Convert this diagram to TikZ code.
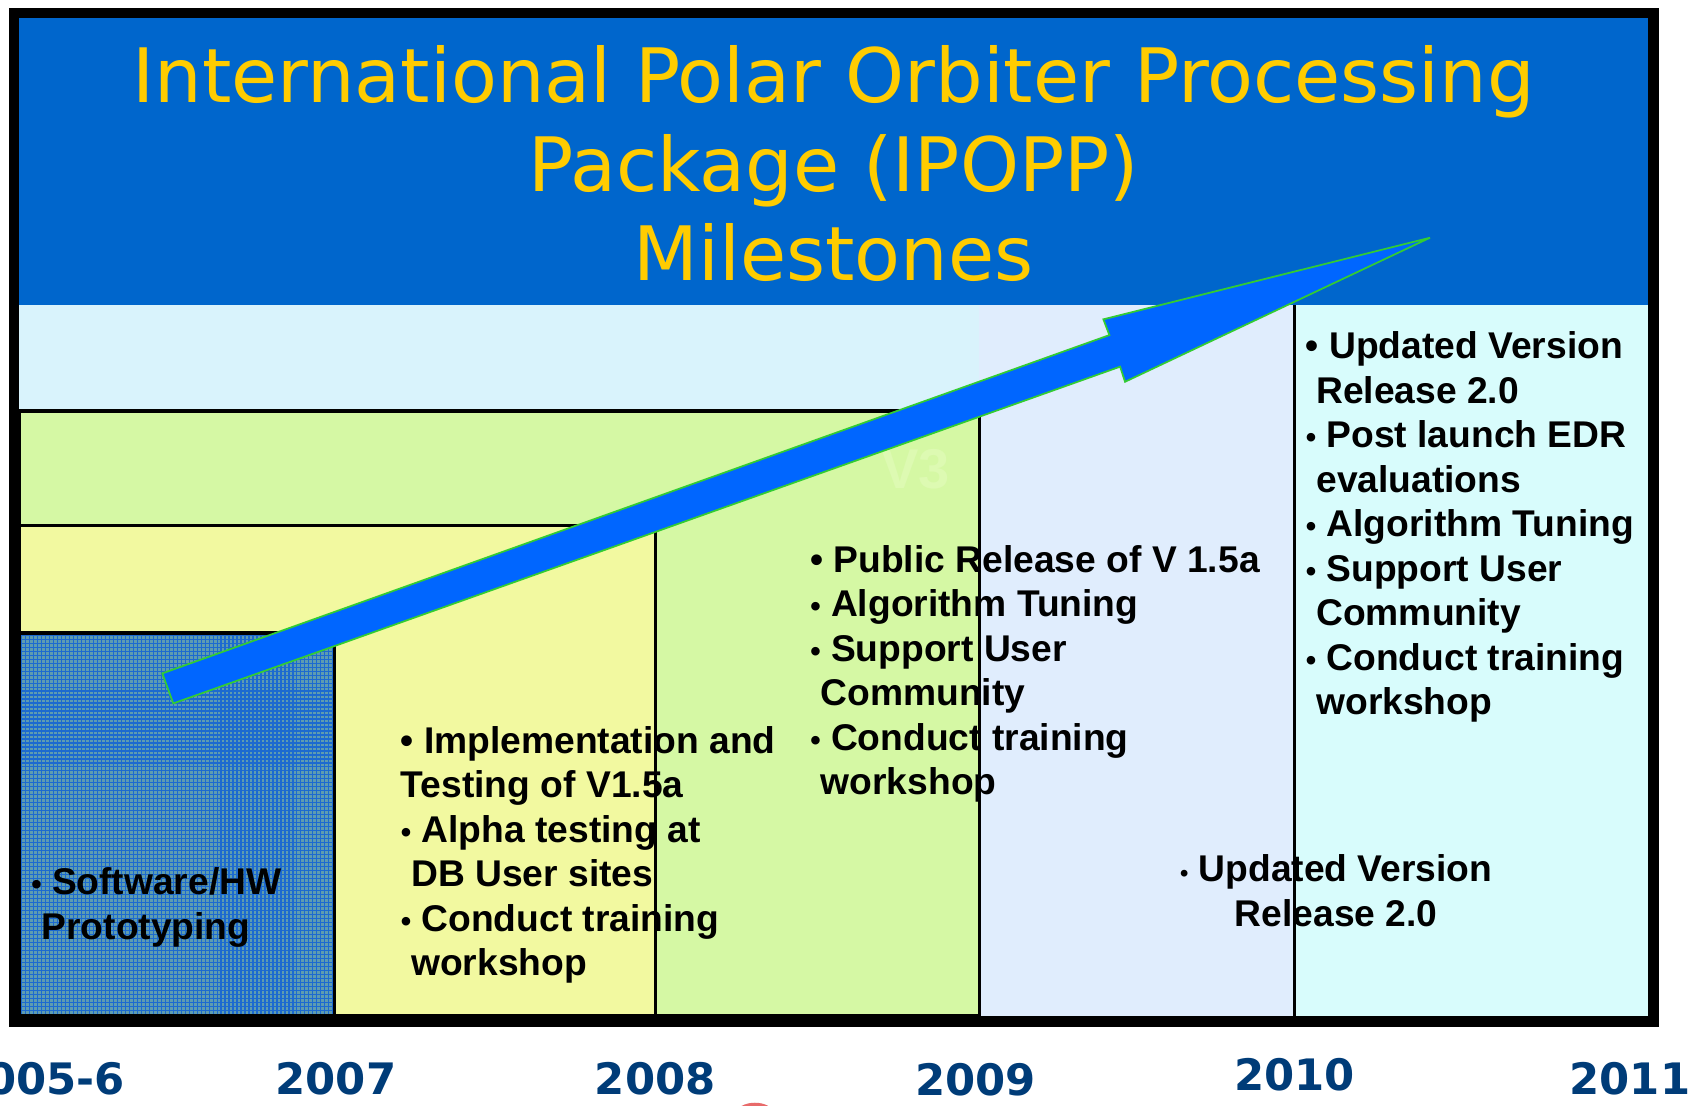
\documentclass[tikz,border=0pt]{standalone}
\usepackage{fontspec}
\setmainfont{Liberation Sans}
\newfontfamily\dejavu{DejaVu Sans}

\definecolor{headblue}{HTML}{0066CC}
\definecolor{titleyellow}{HTML}{FFCC00}
\definecolor{bandcyan}{HTML}{D9F3FC}
\definecolor{lavender}{HTML}{E0EDFD}
\definecolor{rightcyan}{HTML}{D8FCFC}
\definecolor{boxgreen}{HTML}{D5F8A4}
\definecolor{boxyellow}{HTML}{F2F9A0}
\definecolor{protobase}{HTML}{5E9CB0}
\definecolor{protogrid}{HTML}{1C6AD0}
\definecolor{arrowblue}{HTML}{0066FF}
\definecolor{arrowedge}{HTML}{33CC33}
\definecolor{yearblue}{HTML}{003C78}
\definecolor{vthree}{HTML}{DDFAB2}
\definecolor{markred}{HTML}{E86A6A}

% bullets, continuation indent and first-line strut for the text blocks
\newcommand{\sbul}{{\fontsize{13.8pt}{20.65pt}\selectfont •}}
\newcommand{\tbul}{{\fontsize{11pt}{20.65pt}\selectfont •}}
\newcommand{\ind}{\hspace*{0.28em}}
\newcommand{\firstline}{\rule{0pt}{14.5pt}}

\begin{document}
\begin{tikzpicture}[x=0.5pt,y=-0.5pt,
  textblock/.style={anchor=north west, inner sep=0pt, align=left,
    font=\fontsize{17.25pt}{20.65pt}\selectfont\bfseries},
  yearlabel/.style={anchor=base, inner sep=0pt, text=yearblue,
    font=\dejavu\fontsize{20.1pt}{24pt}\selectfont\bfseries},
  boxedge/.style={draw=black, line width=1.5pt},
]
\useasboundingbox (0,0) rectangle (1568,1025);

% outer frame and panels
\fill[black] (8,7) rectangle (1538,952);
\fill[bandcyan] (18,283) rectangle (1528,942);
\fill[lavender] (908,283) rectangle (1200,942);
\fill[rightcyan] (1200,283) rectangle (1528,942);
\fill[headblue] (18,17) rectangle (1528,283);

% stacked phase boxes
\filldraw[fill=boxgreen, boxedge] (18,381) rectangle (908,942);
\filldraw[fill=boxyellow, boxedge] (18,487) rectangle (608,942);
\fill[protobase] (18,587) rectangle (310,942);
\begin{scope}
  \clip (18,587) rectangle (310,942);
  \foreach \gx in {20,23.7,...,312} \draw[protogrid, line width=0.55pt] (\gx,587) -- (\gx,942);
  \foreach \gy in {589,592.7,...,944} \draw[protogrid, line width=0.55pt] (18,\gy) -- (310,\gy);
\end{scope}
\draw[boxedge] (18,587) rectangle (310,942);
\draw[line width=1.3pt] (1200,283) -- (1200,942);
\fill[black] (8,942) rectangle (1538,952);
\fill[black] (8,7) rectangle (18,952);
\fill[black] (1528,7) rectangle (1538,952);

% title
\node[anchor=north, inner sep=0pt, align=center, text=titleyellow,
      font=\dejavu\fontsize{34.8pt}{41.25pt}\selectfont] (title) at (773,35)
  {\rule{0pt}{30pt}International Polar Orbiter Processing\\Package (IPOPP)\\Milestones};

% faint version mark
\node[inner sep=0pt, text=vthree, font=\fontsize{26pt}{30pt}\selectfont\bfseries] (vthree) at (849,435) {V3};

% progress arrow
\coordinate (tailtop) at (150.5,624.4);
\coordinate (notchtop) at (1028.7,310.7);
\coordinate (barbtop) at (1023.1,296.1);
\coordinate (tip) at (1326,220.4);
\coordinate (barbbot) at (1043.2,354);
\coordinate (notchbot) at (1038.6,340);
\coordinate (tailbot) at (160.7,652.2);
\filldraw[fill=arrowblue, draw=arrowedge, line width=0.8pt, line join=miter]
  (tailtop) -- (notchtop) -- (barbtop) -- (tip) -- (barbbot) -- (notchbot) -- (tailbot) -- cycle;

% milestone texts
\node[textblock] (b1) at (28.6,800)
  {\firstline\sbul\ Software/HW\\\ind Prototyping};
\node[textblock] (b2) at (371.3,669)
  {\firstline• Implementation and\\Testing of V1.5a\\\sbul\ Alpha testing at\\\ind DB User sites\\\sbul\ Conduct training\\\ind workshop};
\node[textblock] (b3) at (751,501)
  {\firstline• Public Release of V 1.5a\\\sbul\ Algorithm Tuning\\\sbul\ Support User\\\ind Community\\\sbul\ Conduct training\\\ind workshop};
\node[textblock] (b4) at (1210.5,303)
  {\firstline• Updated Version\\\ind Release 2.0\\\sbul\ Post launch EDR\\\ind evaluations\\\sbul\ Algorithm Tuning\\\sbul\ Support User\\\ind Community\\\sbul\ Conduct training\\\ind workshop};
\node[textblock, anchor=north, align=center] (b5) at (1239,788)
  {\firstline\tbul\ Updated Version\\Release 2.0};

% years
\node[yearlabel] (y2005) at (37.6,1015) {2005-6};
\node[yearlabel] (y2007) at (311.4,1015) {2007};
\node[yearlabel] (y2008) at (607.5,1015) {2008};
\node[yearlabel] (y2009) at (904.5,1016) {2009};
\node[yearlabel] (y2010) at (1200.5,1011) {2010};
\node[yearlabel] (y2011) at (1511.4,1015) {2011};

% clipped mark at the lower edge
\draw[markred, line width=1.5pt] (700,1033) ellipse [x radius=16, y radius=9];
\end{tikzpicture}
\end{document}
